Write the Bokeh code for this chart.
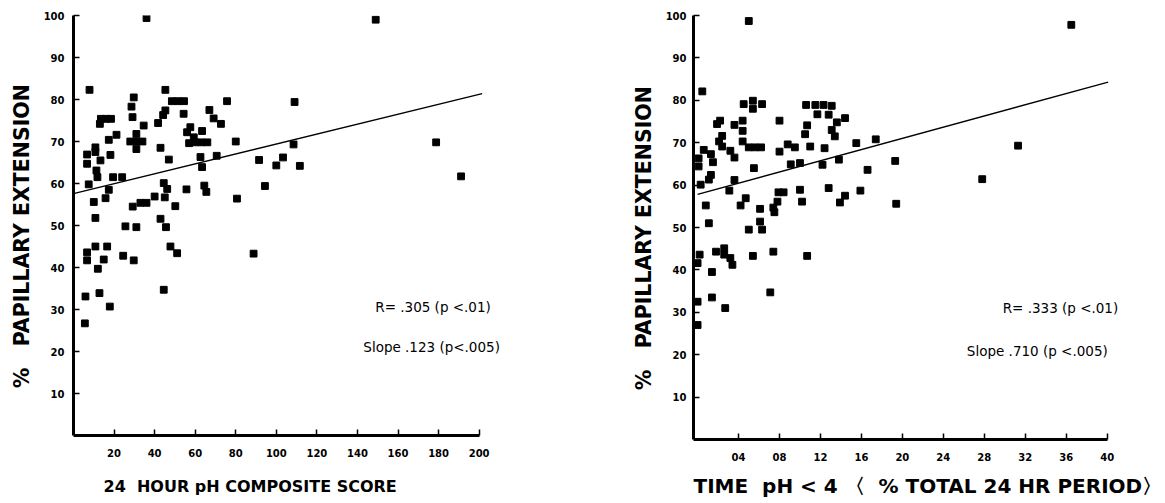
from bokeh.plotting import figure
from bokeh.layouts import row
from bokeh.models import FixedTicker, Label, Title
from bokeh.embed import file_html
from bokeh.resources import INLINE

# ---- Left panel: 24 hour pH composite score vs % papillary extension
score_x = [36, 149, 7.9, 45.3, 29.7, 48.5, 51.5, 54.5, 75.7, 109, 28.6, 45.3, 44.2, 54.3, 67,
           29.1, 13.5, 16, 18.5, 13, 41.7, 34.6, 57.6, 63.4, 56, 69.1, 72.7, 21.2, 17.4,
           31, 28, 34, 31, 31, 57, 59.3, 60, 63, 66, 42.9, 10.8, 10.8, 6.7, 6.7, 18.2, 13.3,
           47, 62.6, 63.4, 70.6, 80, 11.3, 11.8, 19.5, 24, 7.5, 44.5, 46.2, 17.4, 55.7, 64.5,
           65.5, 45, 40, 15.8, 10, 33, 36, 29.2, 50.2, 10.8, 25.6, 31, 42.9, 45.6, 47.8, 51.1,
           10.8, 16.6, 6.7, 6.7, 14.9, 24.5, 29.7, 12, 44.5, 5.9, 12.8, 17.9, 5.6, 88.8, 80.6,
           91.5, 94.4, 100, 103.3, 108.5, 111.6, 178.8, 191.1]
score_y = [99.4, 99, 82.3, 82.3, 80.5, 79.6, 79.6, 79.6, 79.6, 79.4, 78.3, 77.4, 76.3, 76.6, 77.5,
           75.8, 75.4, 75.4, 75.4, 74.2, 74.4, 73.8, 73.4, 72.5, 72.2, 75.5, 74.2, 71.6, 70.4,
           70, 70, 70, 71.8, 68.2, 69.6, 71, 69.8, 69.8, 69.8, 68.5, 68.6, 67.5, 66.9, 64.7, 66.8, 65.5,
           65.7, 66.3, 63.9, 66.6, 70, 63.1, 61.5, 61.5, 61.5, 59.8, 60.1, 58.7, 58.5, 58.6, 59.5,
           58, 56.7, 56.9, 56.5, 55.6, 55.4, 55.4, 54.5, 54.6, 51.8, 49.8, 49.6, 51.6, 49.6, 45, 43.4,
           45, 45, 43.6, 41.7, 41.9, 42.8, 41.7, 39.7, 34.7, 33.1, 33.9, 30.7, 26.7, 43.3, 56.4,
           65.6, 59.4, 64.3, 66.2, 69.3, 64.2, 69.8, 61.7]
fit1_x = [0, 201.5]
fit1_y = [57.6, 81.4]

# ---- Right panel: time pH < 4 (% of 24 hr period) vs % papillary extension
time_x = [5.0, 36.5, 0.46, 4.5, 5.4, 5.4, 6.3, 10.6, 11.5, 12.3, 13.1, 11.7, 12.8, 13.6, 14.4,
          13.1, 13.4, 1.9, 2.2, 3.6, 4.4, 4.4, 8.0, 10.7, 10.5, 2.4, 2.1, 2.4, 3.2, 3.6, 4.4,
          5.0, 5.6, 6.2, 8.8, 9.5, 11.0, 12.4, 8.0, 0.6, 1.3, 0.1, 0.1, 1.5, 1.3, 1.1, 0.3, 5.5,
          9.1, 10, 12.2, 13.8, 15.5, 17.4, 16.6, 19.3, 3.6, 3.1, 7.9, 8.4, 10, 12.8, 14.4, 13.9,
          15.9, 19.4, 4.7, 4.2, 7.8, 7.4, 7.5, 10.2, 6.1, 0.8, 1.1, 6.1, 5.0, 6.3, 0.2, 1.8, 2.6,
          2.6, 3.2, 3.4, 5.4, 7.4, 10.7, 0, 1.4, 7.1, 1.4, 0, 2.7, 0, 31.3, 27.8]
time_y = [98.7, 97.8, 82.1, 79.1, 79.9, 78, 79.1, 78.9, 78.9, 78.9, 78.7, 76.7, 76.6, 74.8, 75.8,
          73, 71.5, 74.4, 75.2, 74.2, 75.2, 72.8, 75.2, 74.1, 72, 71.6, 70.3, 69.1, 68.1, 66.5, 70.3,
          68.9, 68.9, 68.9, 69.6, 68.9, 69.1, 68.7, 67.9, 68.3, 67.3, 66.3, 64.4, 65.4, 62.4, 61.3, 60.1, 64,
          64.9, 65.2, 64.8, 66, 69.9, 70.8, 63.6, 65.7, 61.2, 58.7, 58.3, 58.3, 58.9, 59.3, 57.5, 55.9,
          58.7, 55.6, 56.9, 55.2, 56.1, 54.7, 53.6, 56.1, 54.4, 55.2, 51, 51.4, 49.5, 49.5, 43.6, 44.3, 45.1,
          43.6, 42.8, 41.2, 43.3, 44.3, 43.3, 41.6, 39.5, 34.7, 33.5, 32.5, 31, 27, 69.3, 61.4]
fit2_x = [0, 40.1]
fit2_y = [57.8, 84.3]

y_ticks = [10, 20, 30, 40, 50, 60, 70, 80, 90, 100]
x1_ticks = [20, 40, 60, 80, 100, 120, 140, 160, 180, 200]
x2_ticks = [4, 8, 12, 16, 20, 24, 28, 32, 36, 40]
x2_labels = ["04", "08", "12", "16", "20", "24", "28", "32", "36", "40"]

y_label = "%\u00a0\u00a0\u00a0PAPILLARY EXTENSION\u00a0\u00a0\u00a0"
x1_label = "24\u00a0 HOUR pH COMPOSITE SCORE"
x2_label = "TIME\u00a0 pH < 4 \u3008\u00a0 % TOTAL 24 HR PERIOD\u3009"

r1_text = "R= .305 (p <.01)"
s1_text = "Slope .123 (p<.005)"
r2_text = "R= .333 (p <.01)"
s2_text = "Slope .710 (p <.005)"

BOLD = "DejaVu Sans"


def make_panel(xs, ys, fx, fy, xr, xbounds, xticks, xlabels, fw, fh, bl, br, bt,
               ystand, title_text, title_offset, title_size, title_standoff, notes):
    p = figure(frame_width=fw, frame_height=fh, x_range=xr, y_range=(0, 100),
               output_backend="svg", toolbar_location=None,
               min_border_left=bl, min_border_right=br, min_border_top=bt, min_border_bottom=10)
    p.outline_line_color = None
    p.grid.visible = False
    p.background_fill_color = "white"
    p.border_fill_color = "white"

    p.square(xs, ys, size=6.8, color="black")
    p.line(fx, fy, line_color="black", line_width=1.4)

    for ax in (p.xaxis, p.yaxis):
        ax.axis_line_width = 3
        ax.axis_line_color = "black"
        ax.major_tick_in = 6
        ax.major_tick_out = 0
        ax.major_tick_line_width = 1.5
        ax.minor_tick_line_color = None
        ax.major_label_text_font = BOLD
        ax.major_label_text_font_style = "bold"
        ax.major_label_text_font_size = "10px"
        ax.major_label_text_color = "black"

    p.yaxis.ticker = FixedTicker(ticks=y_ticks)
    p.yaxis.major_label_standoff = ystand
    p.yaxis.axis_label = y_label
    p.yaxis.axis_label_text_font = BOLD
    p.yaxis.axis_label_text_font_style = "bold"
    p.yaxis.axis_label_text_font_size = "20.5px"
    p.yaxis.axis_label_standoff = 7
    p.yaxis.axis_label_text_color = "black"

    p.xaxis.ticker = FixedTicker(ticks=xticks)
    p.xaxis.bounds = xbounds
    p.xaxis.major_label_overrides = {t: l for t, l in zip(xticks, xlabels)}
    p.xaxis.major_label_standoff = 13

    p.add_layout(Title(text=title_text, align="left", offset=title_offset,
                       text_font=BOLD, text_font_style="bold", text_font_size=title_size,
                       text_color="black", standoff=title_standoff), "below")

    for (nx, ny, txt) in notes:
        p.add_layout(Label(x=nx, y=ny, text=txt, text_font="DejaVu Sans",
                           text_font_size="13.5px", text_baseline="middle", text_color="black"))
    return p


p1 = make_panel(score_x, score_y, fit1_x, fit1_y, (0, 213), (0, 200), x1_ticks,
                [str(t) for t in x1_ticks],
                432, 420, 73, 75, 15, 9, x1_label, 30, "16px", 30,
                [(148.8, 30.7, r1_text), (142.9, 21.0, s1_text)])
p2 = make_panel(time_x, time_y, fit2_x, fit2_y, (-0.4, 41.5), (-0.4, 40), x2_ticks, x2_labels,
                429, 424, 113, 40, 14, 7, x2_label, 0, "20px", 17,
                [(29.8, 30.9, r2_text), (26.3, 20.8, s2_text)])

layout = row(p1, p2)
open("out.html", "w").write(file_html(layout, INLINE))
